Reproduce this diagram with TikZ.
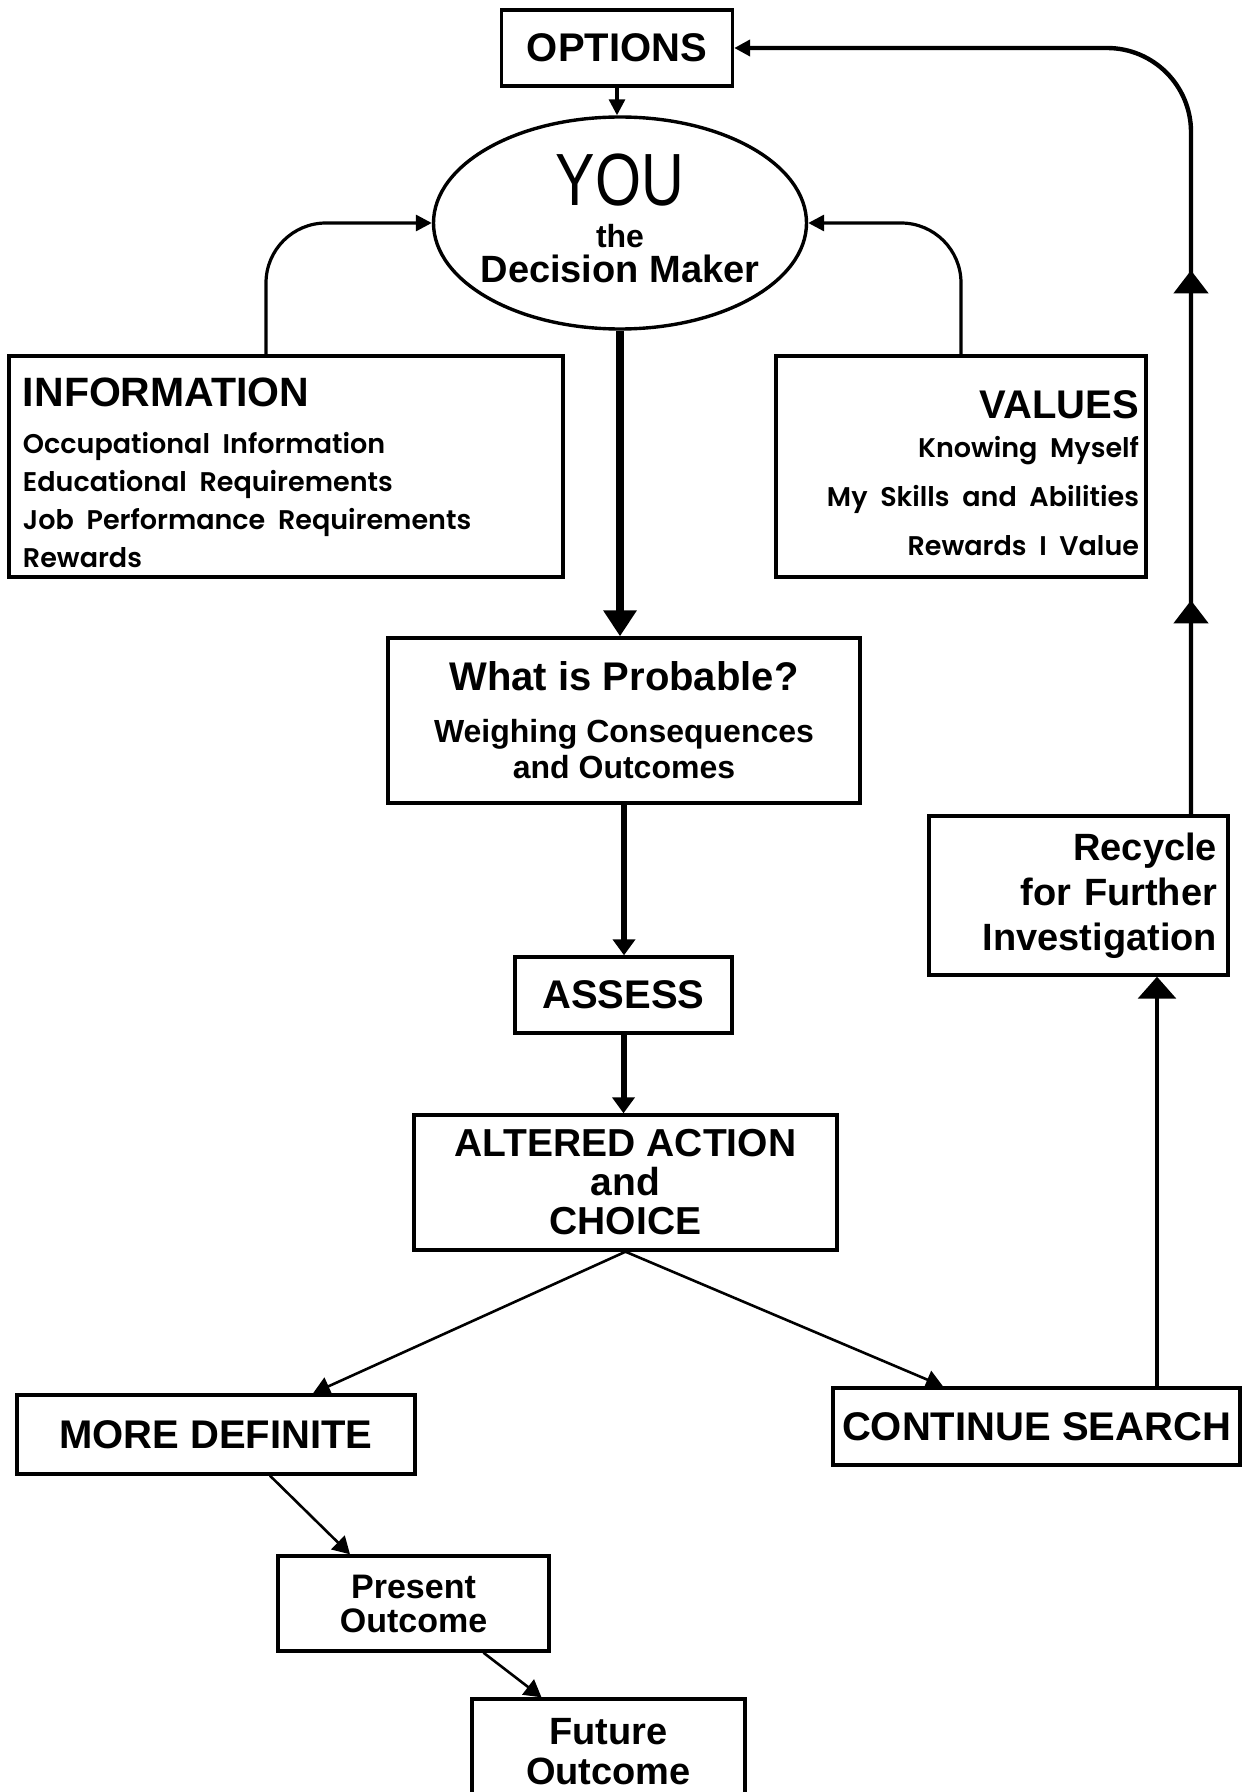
\documentclass[tikz,border=0pt]{standalone}
\usepackage{graphicx}
\usepackage{fontspec}
\setmainfont{Liberation Sans}
\newfontfamily\listfont{Poppins}[BoldFont={Poppins SemiBold},WordSpace=0.6]
\usetikzlibrary{arrows.meta,shapes.geometric,decorations.markings}

\tikzset{
    box/.style={draw,line width=1.7pt,inner sep=0pt,align=center,
        font=\fontsize{20}{18}\selectfont\bfseries},
    flow/.style={line width=1.6pt,-{Triangle[length=8pt,width=8pt]}},
    trunk/.style={line width=3pt,-{Triangle[length=8pt,width=11pt]}},
    branch/.style={line width=1.3pt,-{Triangle[length=8.5pt,width=9.5pt]}},
}

\begin{document}
\begin{tikzpicture}[x=0.5pt,y=-0.5pt]
    \useasboundingbox (0,0) rectangle (1250,1792);
    % --- Options and the decision maker ---
    \node[box,minimum width=115.5pt,minimum height=38pt] (options) at (617,48) {OPTIONS};
    \node[draw,ellipse,line width=1.7pt,minimum width=186.5pt,minimum height=106pt] (you) at (620,223) {};
    \node[align=center,font=\fontsize{19}{20}\selectfont\bfseries] (youtext) at (620,218)
        {\scalebox{0.8}[1]{\mdseries\fontsize{37}{37}\selectfont YOU}\\[1pt]
         {\fontsize{16}{18}\selectfont the}\\[-2.5pt]
         Decision Maker};
    % --- Information and values ---
    \node[box,align=left,text width=263pt,inner xsep=7pt,minimum height=110.5pt,
        font=\fontsize{19}{19}\selectfont\bfseries] (info) at (286,466.5)
        {\fontsize{20.5}{22}\selectfont\rule{0pt}{21pt}INFORMATION\par\vspace{4.5pt}
         \listfont\fontsize{13.5}{19}\selectfont Occupational Information\\
         Educational Requirements\\ Job Performance Requirements\\ Rewards};
    \node[box,align=right,text width=178pt,inner xsep=3.5pt,minimum height=110.5pt,
        font=\fontsize{19}{24.5}\selectfont\bfseries] (values) at (961,466.5)
        {\fontsize{20}{22}\selectfont\rule{0pt}{21pt}VALUES\par\vspace{-5pt}
         \listfont\fontsize{13.5}{24.5}\selectfont Knowing Myself\\ My Skills and Abilities\\ Rewards I Value};
    % --- Main column ---
    \node[box,minimum width=236pt,minimum height=82.5pt] (prob) at (624,720.5)
        {What is Probable?\\[8pt]
         {\fontsize{16}{18}\selectfont Weighing Consequences}\\
         {\fontsize{16}{18}\selectfont and Outcomes}};
    \node[box,minimum width=108.5pt,minimum height=38pt] (assess) at (623.5,995) {ASSESS};
    \node[box,minimum width=211.5pt,minimum height=67.5pt,font=\fontsize{19.5}{19.5}\selectfont\bfseries] (altered) at (625.5,1182.5)
        {ALTERED ACTION\\and\\CHOICE};
    % --- Outcomes ---
    \node[box,minimum width=199pt,minimum height=39.5pt] (more) at (216,1434.5) {MORE DEFINITE};
    \node[box,minimum width=203.5pt,minimum height=38.5pt] (cont) at (1036.5,1426.5) {CONTINUE SEARCH};
    \node[box,align=right,text width=138.5pt,inner xsep=5.5pt,minimum height=79.5pt,
        font=\fontsize{19}{22.5}\selectfont\bfseries] (recycle) at (1078.5,895.5)
        {Recycle\\ for Further\\ Investigation};
    \node[box,minimum width=135.5pt,minimum height=47.5pt,font=\fontsize{17}{17}\selectfont\bfseries] (present) at (413.5,1603.5)
        {Present\\Outcome};
    \node[box,minimum width=136.5pt,minimum height=53pt,font=\fontsize{19}{20}\selectfont\bfseries] (future) at (608.5,1752)
        {Future\\Outcome};

    % --- Connectors ---
    \draw[flow] (options.south) -- (options.south |- you.north);
    \draw[flow,rounded corners=30pt] ([xshift=-10pt]info.north) |- (you.west);
    \draw[flow,rounded corners=30pt] (values.north) |- (you.east);
    \draw[line width=3.8pt,-{Triangle[length=13pt,width=16pt]}] (you.south) -- (you.south |- prob.north);
    \draw[trunk] (prob.south) -- (prob.south |- assess.north);
    \draw[trunk] (assess.south) -- (assess.south |- altered.north);
    \draw[branch] (altered.south) -- ([xshift=48.5pt]more.north);
    \draw[branch] (altered.south) -- ([xshift=-46.75pt]cont.north);
    \draw[branch] ([xshift=27pt]more.south) -- ([xshift=-31.75pt]present.north);
    \draw[branch] ([xshift=35pt]present.south) -- ([xshift=-33.5pt]future.north);
    \draw[line width=1.6pt,-{Triangle[length=11pt,width=19pt]}]
        ([xshift=60.25pt]cont.north) -- ([xshift=60.25pt]cont.north |- recycle.south);
    \draw[line width=2.2pt,rounded corners=42pt,-{Triangle[length=8pt,width=8pt]},
        postaction={decorate},decoration={markings,
            mark=at position 107pt with {\arrow{Triangle[length=11.5pt,width=17pt]}},
            mark=at position 272pt with {\arrow{Triangle[length=11.5pt,width=17pt]}}}]
        ([xshift=56.25pt]recycle.north) |- (options.east);
\end{tikzpicture}
\end{document}
